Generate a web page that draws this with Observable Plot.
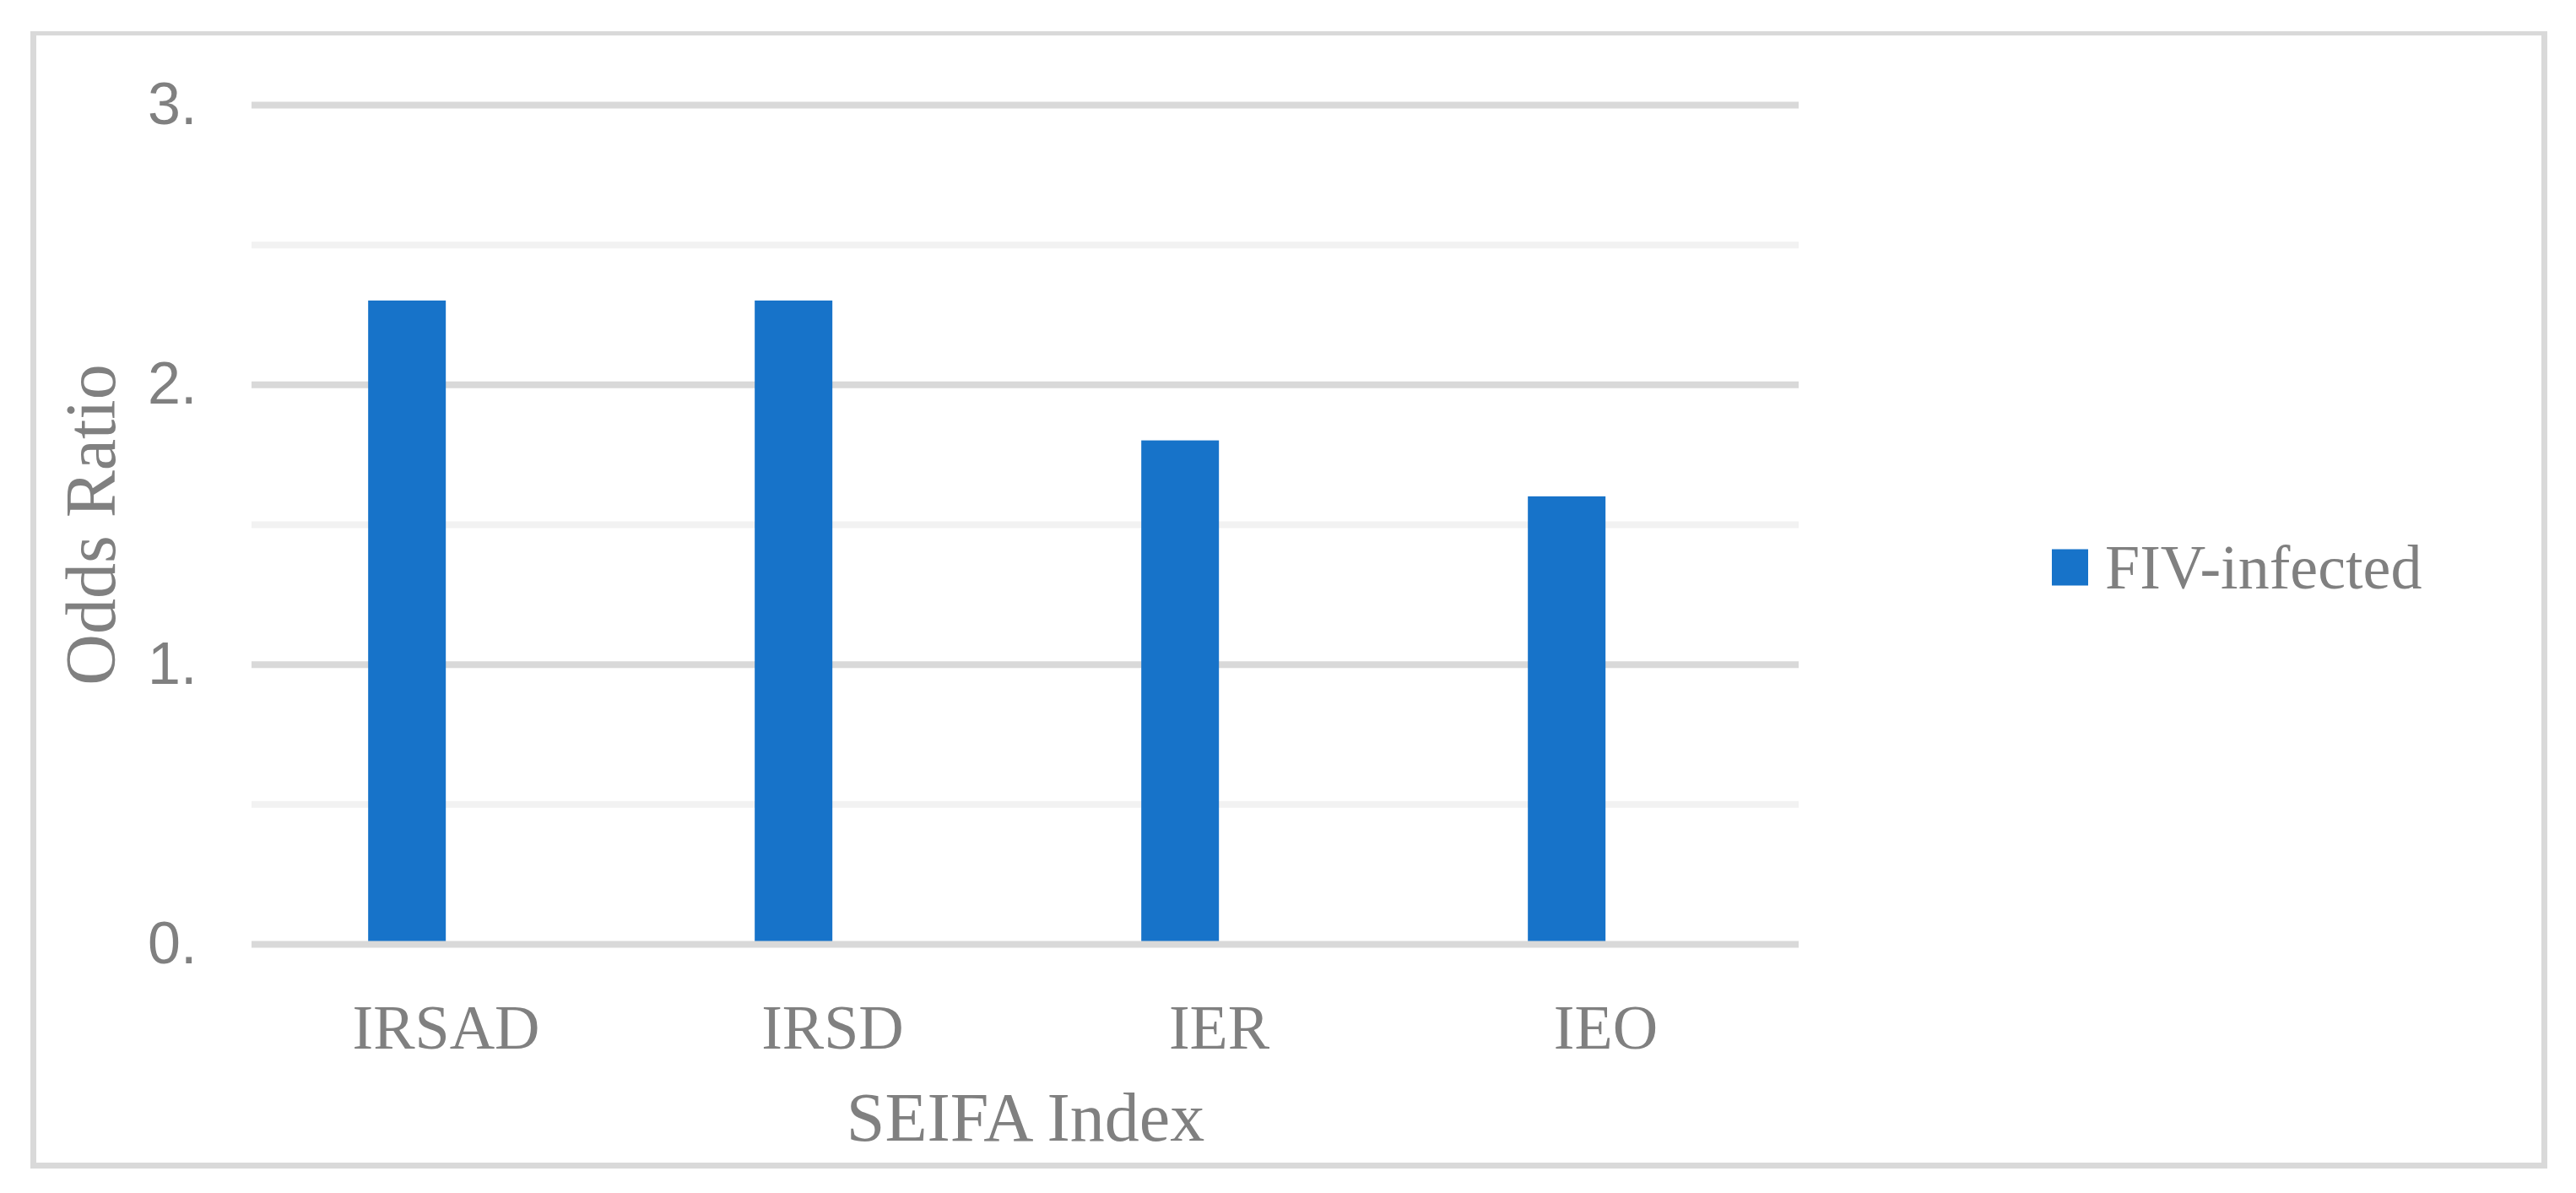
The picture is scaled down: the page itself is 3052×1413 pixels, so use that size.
<!DOCTYPE html>
<html>
<head>
<meta charset="utf-8">
<script src="https://cdn.jsdelivr.net/npm/d3@7"></script>
<script src="https://cdn.jsdelivr.net/npm/@observablehq/plot@0.6"></script>
<style>
  html, body { margin: 0; padding: 0; background: #fff; }
  #wrap { position: relative; width: 3052px; height: 1413px; overflow: hidden; }
  #chart { position: absolute; left: 0; top: 0; }
  #border { position: absolute; left: 36px; top: 37px; width: 2982px; height: 1347px;
            box-sizing: border-box; border-style: solid; border-color: #d9d9d9;
            border-width: 5px 7px 7px 7px; pointer-events: none; }
  #legend { position: absolute; left: 2431px; top: 672px; transform: translateY(-50%); }
  #legend > div { font-family: "Liberation Serif", serif !important; font-size: 74px !important;
                  color: #808080 !important; margin: 0 !important; min-height: 0 !important; }
  #legend span { margin-right: 0 !important; }
  #legend svg { margin-right: 20px !important; }
</style>
</head>
<body>
<div id="wrap">
  <div id="chart"></div>
  <div id="border"></div>
  <div id="legend"></div>
</div>
<script>
// Data
const categories = ["IRSAD", "IRSD", "IER", "IEO"];
const oddsRatios = [2.3, 2.3, 1.8, 1.6];
const seriesName = "FIV-infected";
const majorTicks = [0, 1, 2, 3];
const minorTicks = [0.5, 1.5, 2.5];
const yTitle = "Odds Ratio";
const xTitle = "SEIFA Index";

const barColor = "#1773c9";
const textColor = "#808080";
const table = categories.map((c, i) => ({index: c, or: oddsRatios[i]}));

const W = 3052, H = 1413, ML = 298, MR = 921;
const step = (W - ML - MR) / categories.length;   // category band step
const barShift = -0.1 * step;                       // bar sits left of the category centre (first slot of a cluster)

const chart = Plot.plot({
  width: W,
  height: H,
  marginLeft: ML,
  marginRight: MR,
  marginTop: 124,
  marginBottom: 295,
  style: {color: textColor, background: "transparent"},
  x: {type: "band", domain: categories, paddingInner: 0.8, paddingOuter: 0.4, align: 0.5},
  y: {domain: [0, 3]},
  marks: [
    Plot.ruleY(minorTicks, {stroke: "#f2f2f2", strokeWidth: 8}),
    Plot.ruleY(majorTicks.filter(d => d > 0), {stroke: "#d9d9d9", strokeWidth: 8}),
    Plot.barY(table, {x: "index", y: "or", fill: barColor, dx: barShift}),
    Plot.ruleY([0], {stroke: "#d9d9d9", strokeWidth: 8}),
    Plot.axisY({ticks: majorTicks, tickFormat: d => d + ".", tickSize: 0, tickPadding: 65,
                fontSize: 70, fontFamily: "Liberation Sans, Arial, sans-serif", fill: textColor, label: null}),
    Plot.axisX({tickSize: 0, tickPadding: 71, fontSize: 74,
                fontFamily: "Liberation Serif, serif", fill: textColor, label: null}),
    Plot.text([yTitle], {frameAnchor: "left", dx: -163, rotate: -90, lineAnchor: "bottom",
                textAnchor: "middle", fontSize: 84, fontFamily: "Liberation Serif, serif", fill: textColor}),
    Plot.text([xTitle], {frameAnchor: "bottom", dy: 232, lineAnchor: "bottom",
                textAnchor: "middle", fontSize: 82, fontFamily: "Liberation Serif, serif", fill: textColor})
  ]
});
document.getElementById("chart").appendChild(chart);

const legend = Plot.legend({
  color: {type: "ordinal", domain: [seriesName], range: [barColor]},
  legend: "swatches",
  swatchSize: 43,
  className: "lg"
});
document.getElementById("legend").appendChild(legend);
</script>
</body>
</html>
